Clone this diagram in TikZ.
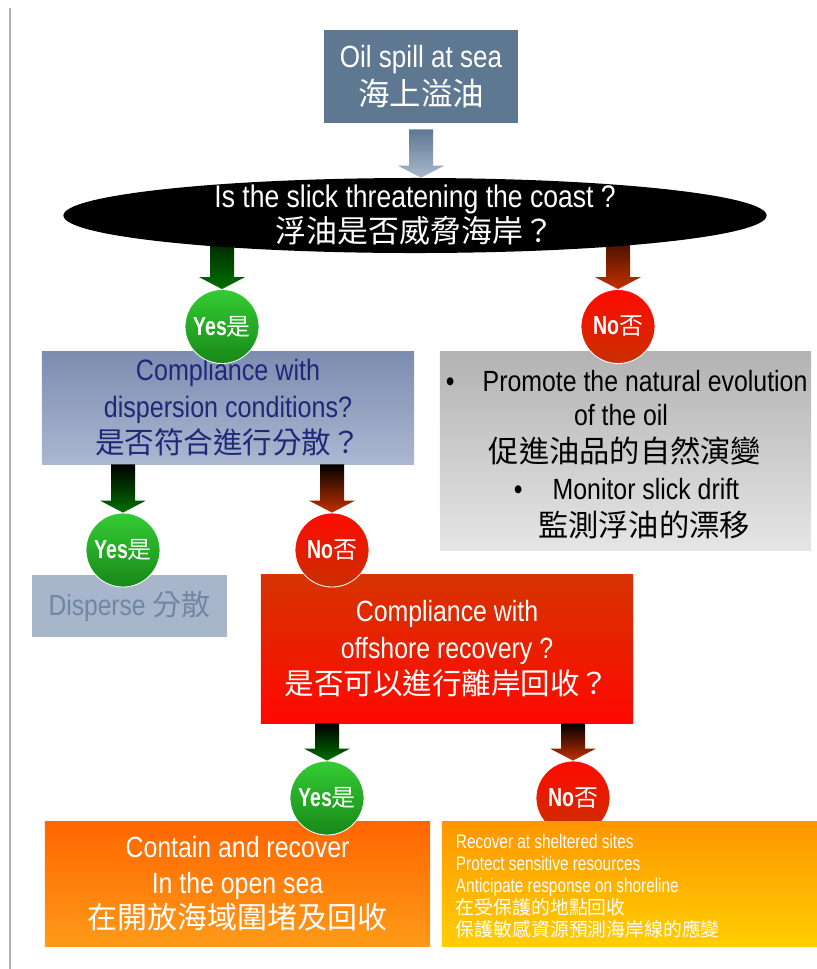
\documentclass[tikz,border=0pt]{standalone}
\usepackage{fontspec}
\setmainfont{Liberation Sans}[FakeStretch=0.85]
\newfontfamily\narrowfont{Liberation Sans}[FakeStretch=0.78]
\newfontfamily\tagfont{Liberation Sans}[FakeStretch=0.75]
\newfontfamily\cjk{Noto Sans CJK TC}
\usetikzlibrary{calc,backgrounds,shapes.geometric}

\definecolor{oilblue}{RGB}{94,120,146}
\definecolor{oilpale}{RGB}{170,184,204}
\definecolor{yestop}{RGB}{52,204,52}
\definecolor{yesbot}{RGB}{24,136,24}
\definecolor{notop}{RGB}{255,10,0}
\definecolor{nobot}{RGB}{200,48,0}
\definecolor{comptop}{RGB}{124,141,176}
\definecolor{compbot}{RGB}{172,183,208}
\definecolor{compink}{RGB}{30,40,120}
\definecolor{disfill}{RGB}{168,182,204}
\definecolor{disink}{RGB}{112,134,164}
\definecolor{offtop}{RGB}{214,52,0}
\definecolor{offbot}{RGB}{255,8,0}
\definecolor{conttop}{RGB}{255,102,0}
\definecolor{contbot}{RGB}{255,154,24}
\definecolor{sheltop}{RGB}{255,150,0}
\definecolor{shelbot}{RGB}{255,206,0}
\definecolor{greenarr}{RGB}{0,112,0}
\definecolor{redarr}{RGB}{196,48,0}

\newcommand{\fs}[2]{\fontsize{#1}{#2}\selectfont}
\newcommand{\tagzh}[1]{{\cjk\mdseries\fs{17pt}{20pt}#1}}

% thick shaded arrow, #1 tail, #2 tip
\newcommand{\fatarrow}[4]{%
  \shade[top color=#3, bottom color=#4]
    ($(#1)+(-12,0)$) -- ($(#1)+(12,0)$) -- ($(#2)+(12,-12)$) -- ($(#2)+(23,-12)$)
    -- (#2) -- ($(#2)+(-23,-12)$) -- ($(#2)+(-12,-12)$) -- cycle;}

\tikzset{
  box/.style={rectangle, inner sep=0pt, align=center, text=white},
  answer/.style={circle, inner sep=0pt, minimum size=1.85cm, draw=white, line width=0.6pt, text=white, font=\tagfont\bfseries\fs{18.5pt}{20pt}},
  yesnode/.style={answer, top color=yestop, bottom color=yesbot},
  nonode/.style={answer, top color=notop, bottom color=nobot},
}

\begin{document}
\begin{tikzpicture}[x=0.025cm, y=-0.025cm]
\useasboundingbox (0,0) rectangle (817,969);
\draw[gray!60, line width=0.8pt] (10,8) -- (10,969);

\node[box, fill=oilblue, minimum width=4.85cm, minimum height=2.325cm, font=\fs{21.8pt}{27.5pt}] (start) at (421,76.5) {Oil spill at sea\\{\cjk\fs{22.4pt}{27.5pt}海上溢油}};

\node[ellipse, fill=black, minimum width=17.575cm, minimum height=1.875cm, inner sep=0pt] (threat) at (415,215.5) {};
\node[box, font=\fs{22.2pt}{24.9pt}] (threattext) at (threat) {Is the slick threatening the coast ?\\{\cjk\fs{22pt}{24.9pt}浮油是否威脅海岸？}};

\node[box, top color=comptop, bottom color=compbot, text=compink, minimum width=9.3cm, minimum height=2.8cm, font=\fs{21pt}{26pt}] (comp) at (228,408) {Compliance with\\dispersion conditions?\\{\cjk\fs{21pt}{26pt}是否符合進行分散？}};

\node[box, top color=black!30, bottom color=black!10, minimum width=9.275cm, minimum height=4.95cm] (natural) at (625.5,451) {};
\node[anchor=west, font=\fs{20.8pt}{24pt}] (promote) at (441,381) {•\hspace{0.7cm}Promote the natural evolution};
\node[font=\fs{20.8pt}{24pt}] (ofoil) at (621,415) {of the oil};
\node[font=\cjk\fs{21.5pt}{24pt}] (promotezh) at (625,451) {促進油品的自然演變};
\node[anchor=west, font=\fs{20.8pt}{24pt}] (monitor) at (509,489) {•\hspace{0.75cm}Monitor slick drift};
\node[font=\cjk\fs{21.5pt}{24pt}] (monitorzh) at (644,525) {監測浮油的漂移};

\node[box, fill=disfill, text=disink, minimum width=4.875cm, minimum height=1.55cm, font=\fs{20.6pt}{22pt}] (disperse) at (129.5,606) {Disperse {\cjk\fs{20.6pt}{22pt}分散}};

\node[box, top color=offtop, bottom color=offbot, minimum width=9.3cm, minimum height=3.7cm, font=\fs{20.8pt}{26pt}] (offshore) at (447,649) {Compliance with\\offshore recovery ?\\{\cjk\fs{21pt}{26pt}是否可以進行離岸回收？}};

\node[box, top color=conttop, bottom color=contbot, minimum width=9.625cm, minimum height=3.1cm, font=\fs{20.8pt}{25.2pt}] (contain) at (237.5,884) {Contain and recover\\In the open sea\\{\cjk\fs{21.3pt}{25.2pt}在開放海域圍堵及回收}};

% this one sits under its box
\node[nonode] (no3) at (573,798) {No\tagzh{否}};
\node[box, top color=sheltop, bottom color=shelbot, minimum width=9.375cm, minimum height=3.1cm] (sheltered) at (629.5,884) {};
\node[anchor=west, align=left, text=white, font=\narrowfont\fs{14pt}{15.6pt}] (shelteredtext) at (451,886) {Recover at sheltered sites\\Protect sensitive resources\\Anticipate response on shoreline\\{\cjk\fs{13.4pt}{15.6pt}在受保護的地點回收}\\{\cjk\fs{13.4pt}{15.6pt}保護敏感資源預測海岸線的應變}};

\node[yesnode] (yes1) at (222,326.5) {Yes\tagzh{是}};
\node[nonode] (no1) at (618,326.5) {No\tagzh{否}};
\node[yesnode] (yes2) at (123,550) {Yes\tagzh{是}};
\node[nonode] (no2) at (332,550) {No\tagzh{否}};
\node[yesnode] (yes3) at (327,798) {Yes\tagzh{是}};

% arrows
\coordinate (oilout) at ($(start.south)+(0,6)$);
\fatarrow{oilout}{start.south |- threat.north}{oilblue}{oilpale}
\begin{scope}[on background layer]
\fatarrow{yes1.north |- threat.center}{yes1.north}{black}{greenarr}
\fatarrow{no1.north |- threat.center}{no1.north}{black}{redarr}
\end{scope}
\fatarrow{yes2.north |- comp.south}{yes2.north}{black}{greenarr}
\fatarrow{no2.north |- comp.south}{no2.north}{black}{redarr}
\fatarrow{yes3.north |- offshore.south}{yes3.north}{black}{greenarr}
\fatarrow{no3.north |- offshore.south}{no3.north}{black}{redarr}

\end{tikzpicture}
\end{document}
